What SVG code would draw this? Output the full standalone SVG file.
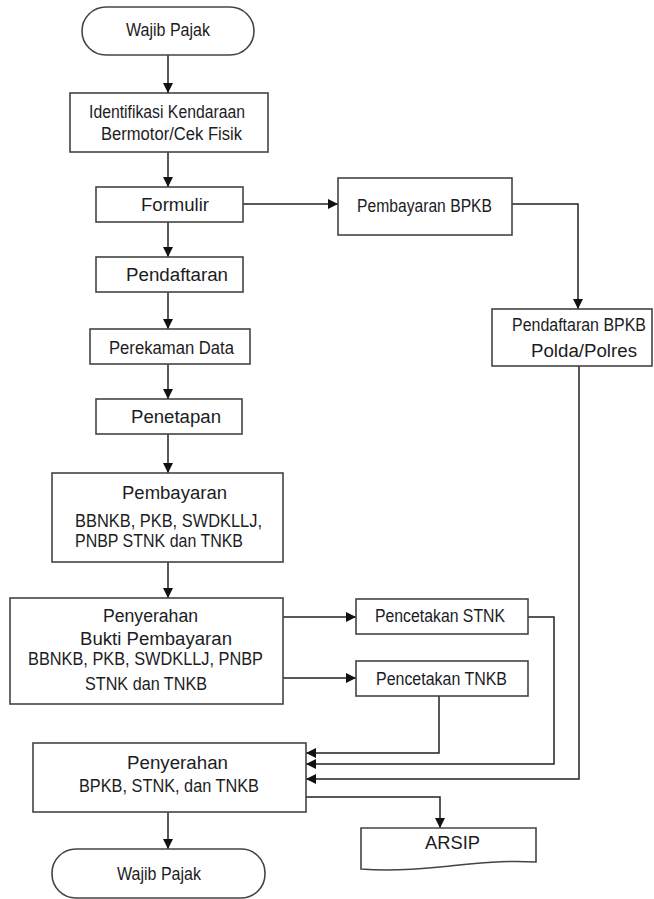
<svg xmlns="http://www.w3.org/2000/svg" width="654" height="899" viewBox="0 0 654 899">
  <defs>
    <marker id="arrow" viewBox="0 0 10 10" refX="10" refY="5" markerWidth="10" markerHeight="10" markerUnits="userSpaceOnUse" orient="auto">
      <path d="M0,0 L10,5 L0,10 Z" fill="#111"/>
    </marker>
  </defs>
  <style>
    .box { fill: #fff; stroke: #444; stroke-width: 1.6; }
    .conn { fill: none; stroke: #222; stroke-width: 1.5; }
    .t { font-family: "Liberation Sans", Arial, sans-serif; font-size: 17.5px; fill: #1c1c24; }
    .tl { font-size: 18px; }
  </style>
  <rect width="654" height="899" fill="#fff"/>

  <!-- connectors -->
  <g id="connectors">
    <path class="conn" d="M168,55 V93" marker-end="url(#arrow)"/>
    <path class="conn" d="M168,152 V187" marker-end="url(#arrow)"/>
    <path class="conn" d="M168,222 V257" marker-end="url(#arrow)"/>
    <path class="conn" d="M168,292 V329" marker-end="url(#arrow)"/>
    <path class="conn" d="M168,364 V399" marker-end="url(#arrow)"/>
    <path class="conn" d="M168,434 V473" marker-end="url(#arrow)"/>
    <path class="conn" d="M168,562 V598" marker-end="url(#arrow)"/>
    <path class="conn" d="M168,812 V849" marker-end="url(#arrow)"/>
    <path class="conn" d="M243,204 H338" marker-end="url(#arrow)"/>
    <path class="conn" d="M512,204 H578 V309" marker-end="url(#arrow)"/>
    <path class="conn" d="M283,617 H356" marker-end="url(#arrow)"/>
    <path class="conn" d="M283,678 H356" marker-end="url(#arrow)"/>
    <path class="conn" d="M439,696 V753 H306" marker-end="url(#arrow)"/>
    <path class="conn" d="M528,617 H554 V764 H306" marker-end="url(#arrow)"/>
    <path class="conn" d="M579,366 V779 H306" marker-end="url(#arrow)"/>
    <path class="conn" d="M306,797 H440 V828" marker-end="url(#arrow)"/>
  </g>

  <g id="start">
    <rect class="box" x="82" y="7" width="172" height="48" rx="24"/>
    <text class="t" x="126" y="36" textLength="84" lengthAdjust="spacingAndGlyphs">Wajib Pajak</text>
  </g>

  <g id="identifikasi">
    <rect class="box" x="70" y="93" width="198" height="59"/>
    <text class="t" x="89" y="118" textLength="156" lengthAdjust="spacingAndGlyphs">Identifikasi Kendaraan</text>
    <text class="t" x="101" y="140" textLength="141" lengthAdjust="spacingAndGlyphs">Bermotor/Cek Fisik</text>
  </g>

  <g id="formulir">
    <rect class="box" x="96" y="187" width="147" height="35"/>
    <text class="t tl" x="141" y="211" textLength="68" lengthAdjust="spacingAndGlyphs">Formulir</text>
  </g>

  <g id="pembayaran-bpkb">
    <rect class="box" x="338" y="178" width="174" height="57"/>
    <text class="t" x="357" y="212" textLength="135" lengthAdjust="spacingAndGlyphs">Pembayaran BPKB</text>
  </g>

  <g id="pendaftaran">
    <rect class="box" x="96" y="257" width="147" height="35"/>
    <text class="t tl" x="126" y="281" textLength="102" lengthAdjust="spacingAndGlyphs">Pendaftaran</text>
  </g>

  <g id="pendaftaran-bpkb">
    <rect class="box" x="492" y="309" width="160" height="57"/>
    <text class="t" x="512" y="331" textLength="134" lengthAdjust="spacingAndGlyphs">Pendaftaran  BPKB</text>
    <text class="t tl" x="531" y="357" textLength="106" lengthAdjust="spacingAndGlyphs">Polda/Polres</text>
  </g>

  <g id="perekaman">
    <rect class="box" x="90" y="329" width="160" height="35"/>
    <text class="t" x="109" y="354" textLength="125" lengthAdjust="spacingAndGlyphs">Perekaman Data</text>
  </g>

  <g id="penetapan">
    <rect class="box" x="96" y="399" width="146" height="35"/>
    <text class="t tl" x="131" y="423" textLength="90" lengthAdjust="spacingAndGlyphs">Penetapan</text>
  </g>

  <g id="pembayaran">
    <rect class="box" x="52" y="473" width="231" height="89"/>
    <text class="t tl" x="122" y="499" textLength="105" lengthAdjust="spacingAndGlyphs">Pembayaran</text>
    <text class="t" x="75" y="527" textLength="187" lengthAdjust="spacingAndGlyphs">BBNKB,  PKB,  SWDKLLJ,</text>
    <text class="t" x="75" y="547" textLength="168" lengthAdjust="spacingAndGlyphs">PNBP STNK dan TNKB</text>
  </g>

  <g id="penyerahan-bukti">
    <rect class="box" x="10" y="598" width="273" height="106"/>
    <text class="t tl" x="103" y="622" textLength="95" lengthAdjust="spacingAndGlyphs">Penyerahan</text>
    <text class="t tl" x="80" y="645" textLength="152" lengthAdjust="spacingAndGlyphs">Bukti Pembayaran</text>
    <text class="t" x="28" y="665" textLength="235" lengthAdjust="spacingAndGlyphs">BBNKB, PKB, SWDKLLJ, PNBP</text>
    <text class="t" x="85" y="690" textLength="122" lengthAdjust="spacingAndGlyphs">STNK dan TNKB</text>
  </g>

  <g id="pencetakan-stnk">
    <rect class="box" x="356" y="599" width="172" height="35"/>
    <text class="t" x="375" y="622" textLength="130" lengthAdjust="spacingAndGlyphs">Pencetakan STNK</text>
  </g>

  <g id="pencetakan-tnkb">
    <rect class="box" x="356" y="661" width="172" height="35"/>
    <text class="t" x="376" y="685" textLength="131" lengthAdjust="spacingAndGlyphs">Pencetakan  TNKB</text>
  </g>

  <g id="penyerahan-bpkb">
    <rect class="box" x="33" y="743" width="273" height="69"/>
    <text class="t tl" x="127" y="769" textLength="101" lengthAdjust="spacingAndGlyphs">Penyerahan</text>
    <text class="t" x="79" y="792" textLength="180" lengthAdjust="spacingAndGlyphs">BPKB, STNK, dan TNKB</text>
  </g>

  <g id="arsip">
    <path class="box" d="M361,828 H536 V862 C500,860 470,864 440,867 C410,870 385,871 361,869 Z"/>
    <text class="t tl" x="425" y="849" textLength="55" lengthAdjust="spacingAndGlyphs">ARSIP</text>
  </g>

  <g id="end">
    <rect class="box" x="52" y="849" width="213" height="49" rx="24"/>
    <text class="t" x="117" y="880" textLength="84" lengthAdjust="spacingAndGlyphs">Wajib Pajak</text>
  </g>
</svg>
